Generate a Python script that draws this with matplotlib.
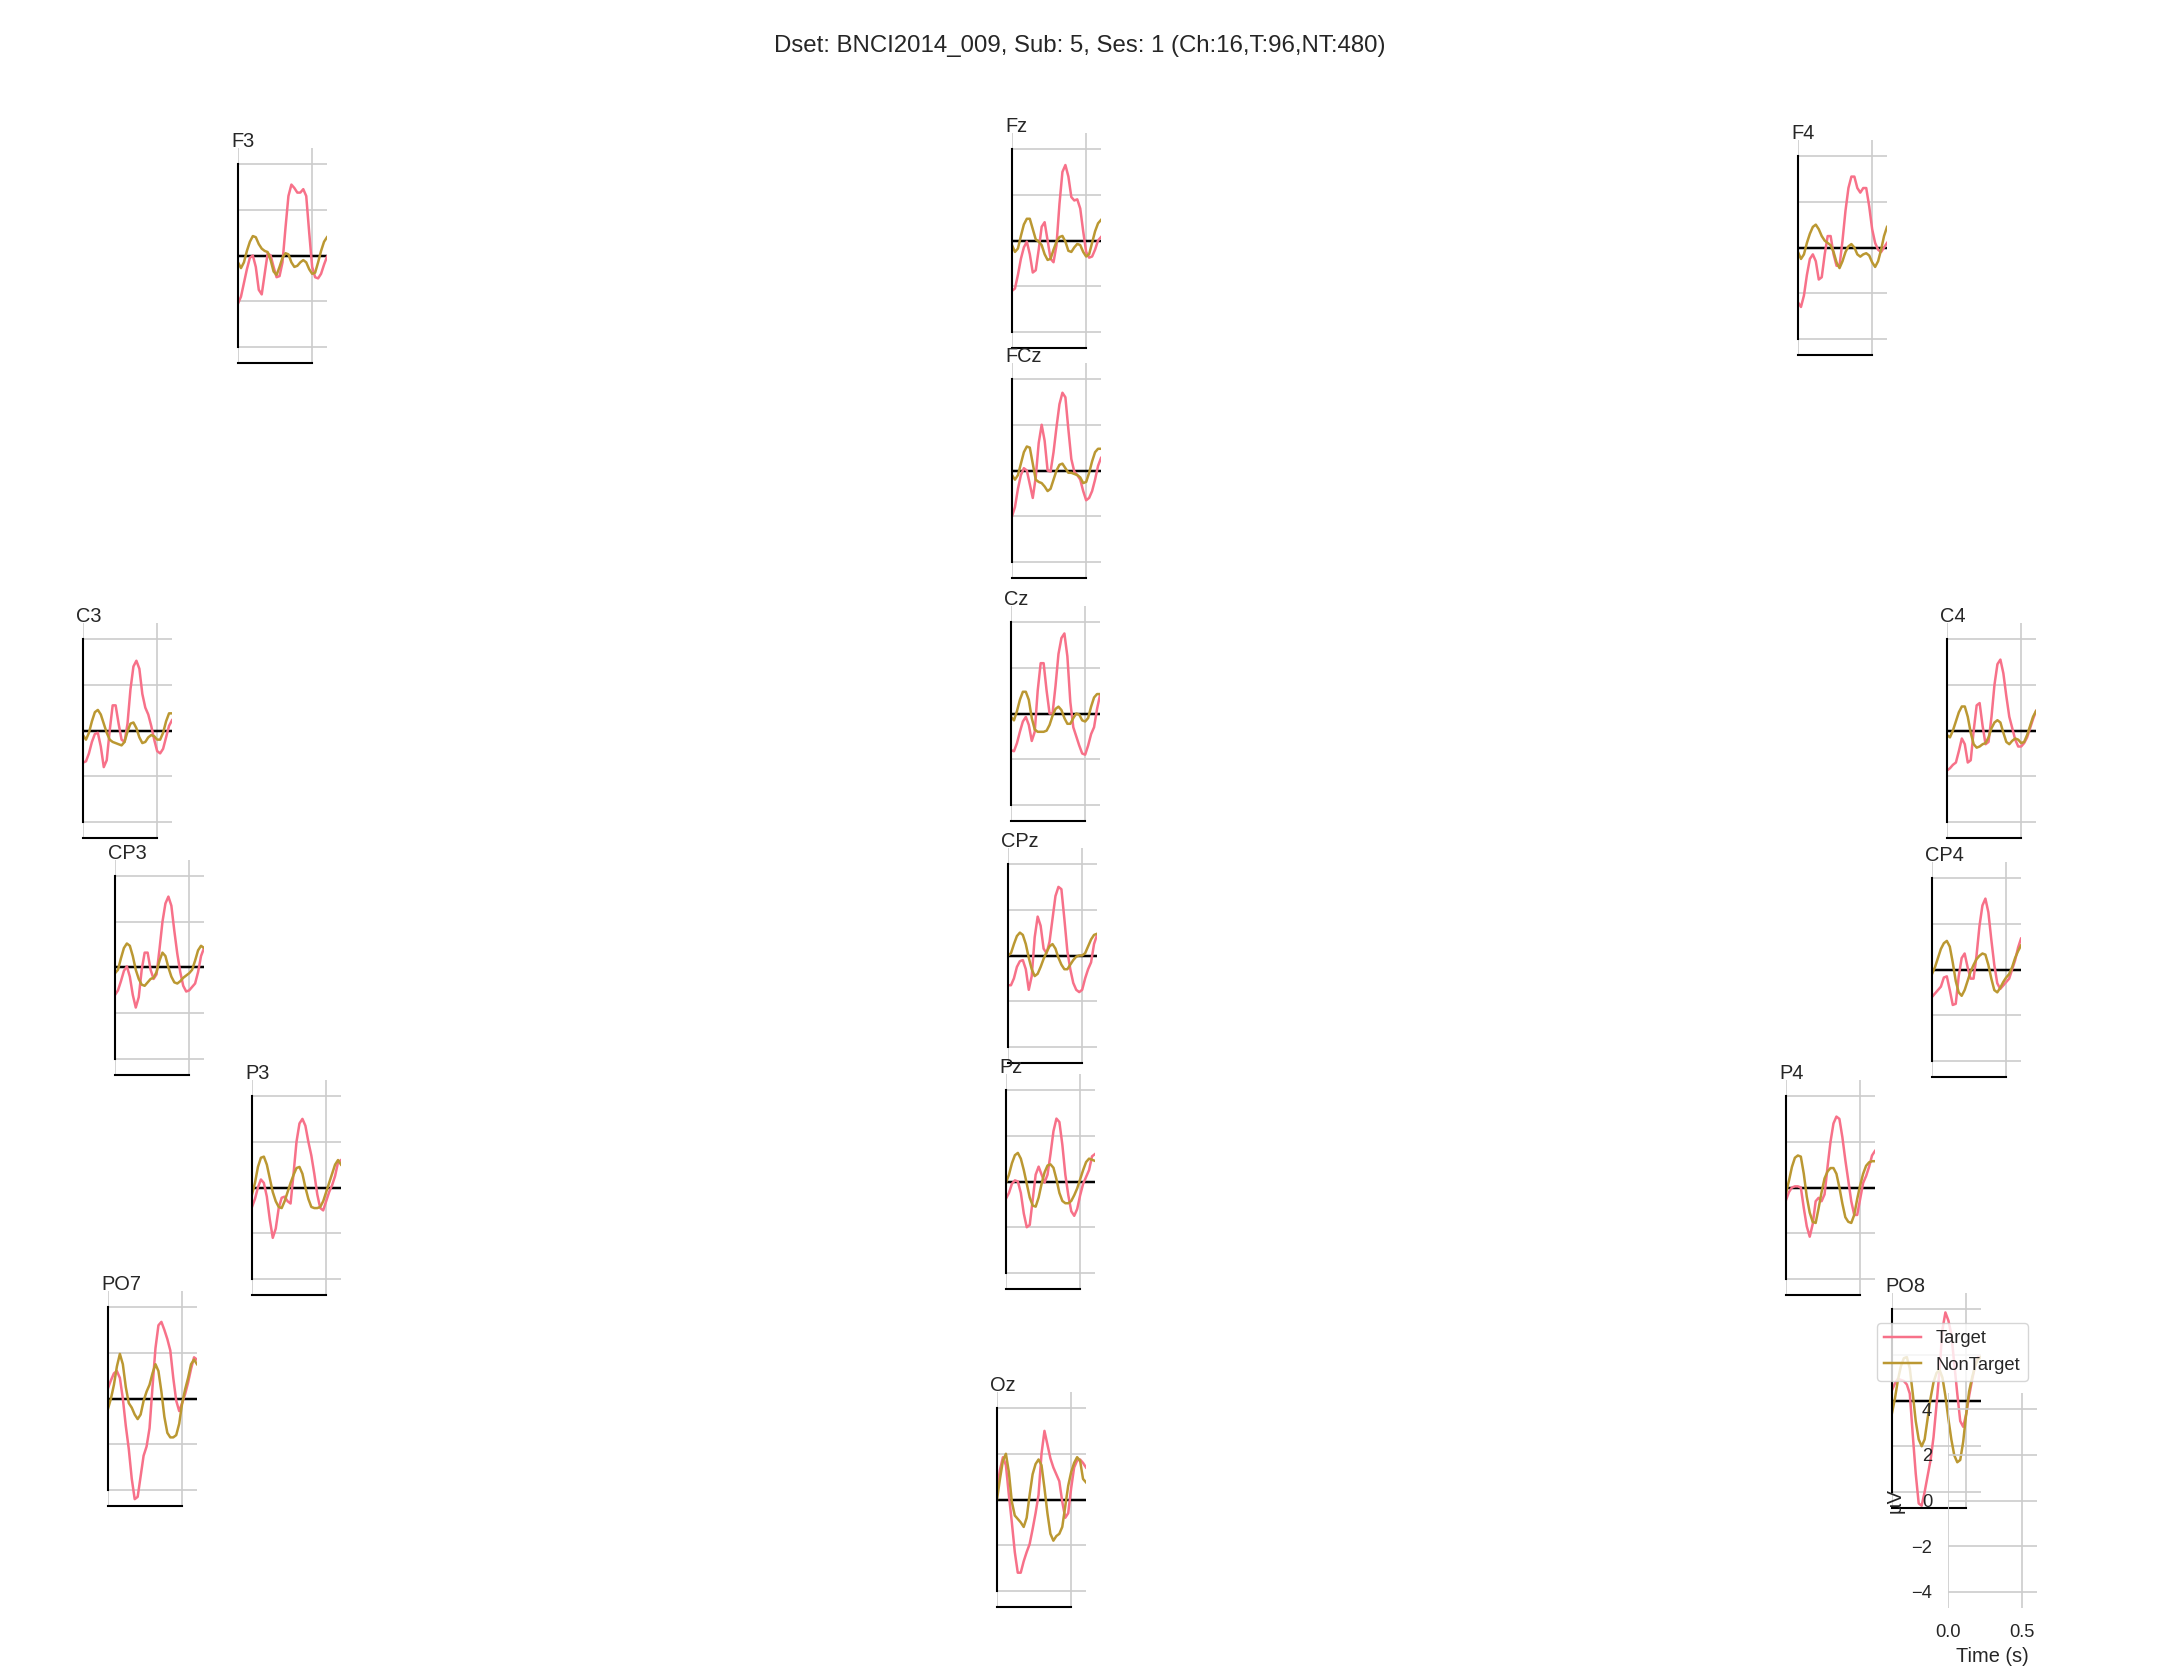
import numpy as np
import matplotlib.pyplot as plt

plt.rcParams['font.family'] = ['Liberation Sans', 'DejaVu Sans']
plt.rcParams['text.color'] = '#262626'
plt.rcParams['axes.labelcolor'] = '#262626'
plt.rcParams['xtick.color'] = '#262626'
plt.rcParams['ytick.color'] = '#262626'

title = "Dset: BNCI2014_009, Sub: 5, Ses: 1 (Ch:16,T:96,NT:480)"
conditions = ['Target', 'NonTarget']
times = np.round(np.arange(31) * 0.02, 2)  # s

f3_target = [-2.1, -1.8, -1.2, -0.6, -0.1, 0.0, -0.5, -1.5, -1.7, -0.8, 0.1, 0.0, -0.5, -0.95, -0.9, -0.3,
             1.2, 2.6, 3.1, 2.95, 2.75, 2.75, 2.9, 2.6, 1.0, -0.5, -0.95, -1.0, -0.8, -0.4, -0.05]
f3_nontarget = [-0.3, -0.55, -0.3, 0.2, 0.6, 0.85, 0.8, 0.5, 0.3, 0.2, 0.15, -0.2, -0.7, -0.85, -0.5, -0.1,
                0.1, 0.05, -0.3, -0.5, -0.45, -0.3, -0.2, -0.3, -0.6, -0.8, -0.75, -0.3, 0.2, 0.6, 0.8]
fz_target = [-2.2, -2.1, -1.5, -0.8, -0.3, -0.05, -0.6, -1.4, -1.3, -0.4, 0.6, 0.8, 0.0, -0.8, -0.95, -0.2,
             1.6, 3.0, 3.3, 2.8, 1.9, 1.75, 1.8, 1.4, 0.4, -0.5, -0.75, -0.7, -0.4, 0.0, 0.15]
fz_nontarget = [-0.2, -0.5, -0.35, 0.2, 0.7, 0.95, 0.95, 0.5, 0.05, -0.05, -0.2, -0.6, -0.85, -0.8, -0.4, -0.05,
                0.15, 0.2, -0.05, -0.45, -0.5, -0.3, -0.15, -0.2, -0.5, -0.7, -0.6, -0.1, 0.4, 0.75, 0.9]
f4_target = [-2.4, -2.6, -2.1, -1.2, -0.5, -0.3, -0.6, -1.4, -1.3, -0.3, 0.5, 0.5, -0.3, -0.8, -0.8, 0.3,
             1.6, 2.6, 3.1, 3.1, 2.6, 2.4, 2.6, 2.6, 1.8, 0.8, 0.2, -0.1, -0.2, 0.0, 0.2]
f4_nontarget = [-0.2, -0.5, -0.3, 0.2, 0.6, 0.9, 1.0, 0.8, 0.5, 0.3, 0.2, 0.1, -0.2, -0.65, -0.9, -0.6,
                -0.2, 0.05, 0.15, 0.0, -0.3, -0.4, -0.3, -0.25, -0.35, -0.65, -0.85, -0.6, -0.1, 0.5, 0.9]
fcz_target = [-2.0, -1.6, -0.8, -0.2, 0.1, 0.0, -0.6, -1.2, -0.3, 1.2, 2.0, 1.3, 0.0, -0.05, 0.8, 1.9,
              2.9, 3.4, 3.2, 1.8, 0.5, -0.05, -0.2, -0.4, -0.9, -1.3, -1.2, -0.9, -0.4, 0.2, 0.55]
fcz_nontarget = [-0.2, -0.4, -0.2, 0.3, 0.8, 1.05, 1.0, 0.3, -0.4, -0.5, -0.55, -0.7, -0.9, -0.8, -0.4, 0.0,
                 0.25, 0.3, 0.1, -0.1, -0.1, -0.15, -0.2, -0.3, -0.55, -0.5, -0.1, 0.4, 0.8, 0.95, 0.95]
c3_target = [-1.4, -1.35, -1.0, -0.5, -0.15, -0.1, -0.7, -1.6, -1.3, 0.0, 1.1, 1.1, 0.3, -0.4, -0.5, 0.3,
             1.8, 2.8, 3.05, 2.7, 1.6, 1.0, 0.7, 0.2, -0.4, -0.9, -1.0, -0.8, -0.3, 0.2, 0.45]
c3_nontarget = [-0.2, -0.4, -0.1, 0.4, 0.8, 0.9, 0.7, 0.3, -0.1, -0.4, -0.5, -0.55, -0.6, -0.65, -0.5, -0.05,
                0.3, 0.35, 0.1, -0.3, -0.55, -0.5, -0.3, -0.2, -0.25, -0.4, -0.4, -0.1, 0.4, 0.75, 0.75]
cz_target = [-1.6, -1.65, -1.3, -0.8, -0.35, -0.15, -0.5, -1.2, -0.8, 1.0, 2.2, 2.2, 1.0, 0.0, 0.0, 1.2,
             2.6, 3.3, 3.5, 2.5, 0.5, -0.6, -1.0, -1.4, -1.75, -1.8, -1.4, -0.9, -0.6, 0.2, 0.8]
cz_nontarget = [-0.15, -0.3, 0.1, 0.6, 0.95, 0.95, 0.6, -0.2, -0.7, -0.8, -0.8, -0.8, -0.75, -0.5, -0.1, 0.2,
                0.3, 0.15, -0.2, -0.45, -0.45, -0.2, 0.0, -0.05, -0.3, -0.35, -0.2, 0.3, 0.7, 0.85, 0.85]
c4_target = [-1.75, -1.65, -1.5, -1.4, -0.9, -0.35, -0.6, -1.4, -1.3, 0.0, 1.1, 1.2, 0.2, -0.6, -0.5, 0.6,
             2.0, 2.9, 3.1, 2.5, 1.5, 0.6, 0.1, -0.4, -0.7, -0.7, -0.55, -0.3, 0.1, 0.5, 0.85]
c4_nontarget = [-0.2, -0.3, 0.0, 0.4, 0.8, 1.05, 1.05, 0.6, -0.1, -0.6, -0.75, -0.7, -0.6, -0.55, -0.3, 0.1,
                0.35, 0.45, 0.35, -0.1, -0.5, -0.6, -0.45, -0.35, -0.4, -0.55, -0.5, -0.2, 0.2, 0.6, 0.85]
cp3_target = [-1.2, -1.0, -0.6, -0.15, 0.05, -0.4, -1.2, -1.75, -1.3, -0.1, 0.65, 0.65, -0.1, -0.5, -0.3, 0.8,
              2.0, 2.8, 3.1, 2.7, 1.6, 0.6, -0.2, -0.8, -1.05, -1.0, -0.85, -0.7, -0.2, 0.5, 0.85]
cp3_nontarget = [-0.25, -0.1, 0.4, 0.85, 1.05, 0.95, 0.5, -0.1, -0.5, -0.75, -0.8, -0.65, -0.5, -0.45, -0.2, 0.3,
                 0.65, 0.5, 0.0, -0.4, -0.65, -0.7, -0.6, -0.45, -0.35, -0.25, -0.1, 0.3, 0.75, 0.95, 0.85]
cpz_target = [-1.3, -1.3, -1.0, -0.5, -0.25, -0.2, -0.6, -1.5, -0.9, 0.8, 1.7, 1.3, 0.3, 0.1, 0.6, 1.6,
              2.6, 3.0, 2.9, 1.6, 0.2, -0.6, -1.2, -1.5, -1.6, -1.5, -1.0, -0.6, -0.3, 0.5, 0.9]
cpz_nontarget = [0.0, 0.1, 0.5, 0.85, 1.0, 0.9, 0.5, -0.1, -0.6, -0.9, -0.8, -0.5, -0.15, 0.15, 0.4, 0.5,
                 0.3, -0.1, -0.4, -0.6, -0.6, -0.4, -0.2, -0.05, 0.0, 0.0, 0.1, 0.4, 0.7, 0.9, 0.95]
cp4_target = [-1.2, -1.05, -0.9, -0.75, -0.35, -0.3, -0.9, -1.55, -1.5, -0.3, 0.5, 0.7, 0.1, -0.4, -0.4, 0.6,
              1.9, 2.8, 3.1, 2.5, 1.3, 0.2, -0.6, -0.85, -0.7, -0.55, -0.4, 0.0, 0.4, 0.95, 1.35]
cp4_nontarget = [-0.2, 0.1, 0.5, 0.9, 1.15, 1.25, 1.0, 0.3, -0.5, -1.0, -1.15, -0.9, -0.5, -0.1, 0.2, 0.45,
                 0.6, 0.7, 0.65, 0.2, -0.4, -0.9, -1.0, -0.8, -0.55, -0.35, -0.2, 0.1, 0.5, 0.8, 1.05]
p3_target = [-0.85, -0.5, 0.0, 0.35, 0.2, -0.4, -1.4, -2.2, -1.8, -0.9, -0.45, -0.4, -0.6, -0.7, 0.6, 2.0,
             2.8, 3.0, 2.7, 2.0, 1.4, 0.6, -0.3, -0.9, -1.0, -0.6, -0.2, 0.1, 0.5, 1.1, 1.2]
p3_nontarget = [-0.3, 0.2, 0.9, 1.3, 1.35, 1.0, 0.4, -0.2, -0.6, -0.85, -0.9, -0.6, -0.2, 0.2, 0.55, 0.85,
                0.9, 0.6, 0.0, -0.5, -0.85, -0.9, -0.9, -0.85, -0.6, -0.2, 0.2, 0.6, 1.0, 1.2, 1.0]
pz_target = [-0.75, -0.5, -0.1, 0.05, 0.0, -0.5, -1.4, -2.0, -1.9, -0.8, 0.3, 0.65, 0.3, -0.05, 0.3, 1.2,
             2.2, 2.75, 2.6, 1.6, 0.3, -0.6, -1.3, -1.5, -1.2, -0.6, -0.1, 0.2, 0.5, 1.1, 1.2]
pz_nontarget = [-0.05, 0.3, 0.8, 1.15, 1.25, 1.0, 0.5, -0.1, -0.7, -1.05, -1.1, -0.7, -0.1, 0.4, 0.7, 0.75,
                0.6, 0.1, -0.5, -0.85, -0.95, -0.95, -0.85, -0.6, -0.3, 0.1, 0.5, 0.85, 1.0, 0.95, 0.9]
p4_target = [-0.55, -0.2, 0.0, 0.05, 0.05, 0.0, -0.9, -1.7, -2.15, -1.6, -0.6, -0.45, -0.6, -0.3, 0.9, 2.0,
             2.8, 3.1, 3.0, 2.2, 1.2, 0.3, -0.6, -1.2, -1.2, -0.5, 0.2, 0.5, 0.9, 1.4, 1.6]
p4_nontarget = [-0.25, 0.3, 0.9, 1.3, 1.4, 1.35, 0.6, -0.4, -1.1, -1.5, -1.55, -0.9, -0.2, 0.4, 0.7, 0.85,
                0.85, 0.6, 0.0, -0.7, -1.3, -1.5, -1.55, -1.2, -0.5, 0.1, 0.6, 0.95, 1.1, 1.15, 1.15]
po7_target = [0.45, 0.8, 1.1, 1.2, 0.9, 0.0, -1.2, -2.2, -3.5, -4.4, -4.3, -3.4, -2.5, -2.1, -1.3, 0.5,
              2.2, 3.2, 3.35, 3.0, 2.6, 2.1, 0.9, -0.1, -0.55, -0.2, 0.2, 0.7, 1.3, 1.8, 1.7]
po7_nontarget = [-0.45, 0.0, 0.6, 1.4, 1.95, 1.5, 0.5, -0.2, -0.4, -0.7, -0.9, -0.7, -0.1, 0.3, 0.6, 1.1,
                 1.5, 1.2, 0.3, -0.8, -1.5, -1.7, -1.7, -1.6, -1.1, -0.2, 0.4, 0.9, 1.5, 1.7, 1.5]
oz_target = [0.45, 1.3, 1.85, 1.5, 0.2, -1.0, -2.3, -3.2, -3.2, -2.7, -2.3, -1.95, -1.3, -0.6, 0.2, 2.0,
             3.0, 2.4, 1.8, 1.4, 1.1, 0.8, -0.1, -0.8, -0.6, 0.5, 1.4, 1.7, 1.75, 1.6, 1.4]
oz_nontarget = [0.0, 0.9, 1.7, 2.0, 1.2, -0.1, -0.7, -0.85, -1.0, -1.2, -0.8, 0.2, 1.1, 1.55, 1.75, 1.5,
                0.5, -0.6, -1.5, -1.8, -1.6, -1.5, -1.2, -0.3, 0.6, 1.2, 1.6, 1.85, 1.7, 0.9, 0.75]
po8_target = [0.45, 0.75, 0.95, 0.9, 0.85, 0.7, 0.3, -1.5, -3.2, -4.5, -4.6, -4.0, -3.3, -2.6, -1.6, -0.2,
              1.3, 3.1, 3.85, 3.5, 2.9, 1.6, 0.3, -0.9, -1.15, -0.6, 0.2, 0.9, 1.5, 1.9, 1.9]
po8_nontarget = [-0.55, 0.1, 0.9, 1.5, 1.85, 1.9, 1.4, 0.3, -0.9, -1.7, -2.0, -1.7, -0.8, 0.1, 0.8, 1.2,
                 1.35, 1.0, 0.2, -0.8, -1.7, -2.4, -2.7, -2.6, -1.8, -0.6, 0.4, 1.0, 1.5, 1.8, 1.9]

erps = {
    'F3': (f3_target, f3_nontarget), 'Fz': (fz_target, fz_nontarget), 'F4': (f4_target, f4_nontarget),
    'FCz': (fcz_target, fcz_nontarget), 'C3': (c3_target, c3_nontarget), 'Cz': (cz_target, cz_nontarget),
    'C4': (c4_target, c4_nontarget), 'CP3': (cp3_target, cp3_nontarget), 'CPz': (cpz_target, cpz_nontarget),
    'CP4': (cp4_target, cp4_nontarget), 'P3': (p3_target, p3_nontarget), 'Pz': (pz_target, pz_nontarget),
    'P4': (p4_target, p4_nontarget), 'PO7': (po7_target, po7_nontarget), 'Oz': (oz_target, oz_nontarget),
    'PO8': (po8_target, po8_nontarget),
}

# sensor box positions on the figure (left, top) in pixels
layout = {
    'F3': (238, 148), 'Fz': (1012, 133), 'F4': (1798, 140), 'FCz': (1012, 363),
    'C3': (83, 623), 'Cz': (1011, 606), 'C4': (1947, 623),
    'CP3': (115, 860), 'CPz': (1008, 848), 'CP4': (1932, 862),
    'P3': (252, 1080), 'Pz': (1006, 1074), 'P4': (1786, 1080),
    'PO7': (108, 1291), 'Oz': (997, 1392), 'PO8': (1892, 1293),
}
legend_box = (1948, 1393)

W, H = 2160, 1680
BW, BH = 89, 215
colors = ['#f77189', '#bb9832']
ylim = (-4.7, 4.7)
k = 1.2  # the original was drawn at 120 dpi

fig = plt.figure(figsize=(W / 100, H / 100), dpi=100)


def add_box(left, top):
    ax = fig.add_axes([left / W, 1 - (top + BH) / H, BW / W, BH / H])
    ax.set_facecolor('none')
    ax.set_xlim(0, 0.6)
    ax.set_ylim(*ylim)
    ax.set_xticks([0, 0.5])
    ax.set_yticks([-4, -2, 0, 2, 4])
    ax.grid(True, color='#cccccc', lw=1 * k)
    ax.set_axisbelow(True)
    ax.tick_params(length=0, pad=9.5 * k)
    return ax


for ch, (tgt, ntg) in erps.items():
    ax = add_box(*layout[ch])
    ax.axhline(0, color='k', lw=1.5 * k, zorder=1.5)
    ax.plot(times, tgt, color=colors[0], lw=1.5 * k)
    ax.plot(times, ntg, color=colors[1], lw=1.5 * k)
    ax.tick_params(labelbottom=False, labelleft=False)
    for s in ['top', 'right']:
        ax.spines[s].set_visible(False)
    ax.spines['left'].set_bounds(-4, 4)
    ax.spines['bottom'].set_bounds(0, 0.5)
    for s in ['left', 'bottom']:
        ax.spines[s].set_color('k')
        ax.spines[s].set_linewidth(1.25 * k)
    ax.text(-0.08, 1.005, ch, transform=ax.transAxes, fontsize=12 * k, ha='left', va='baseline')

# scale box with the tick labels
lax = add_box(*legend_box)
for s in lax.spines.values():
    s.set_visible(False)
lax.tick_params(labelsize=11 * k)
lax.set_xlabel('Time (s)', fontsize=12 * k, labelpad=4 * k)
lax.set_ylabel('µV', fontsize=12 * k, labelpad=4 * k)

handles = [plt.Line2D([], [], color=c, lw=1.5 * k) for c in colors]
fig.legend(handles, conditions, loc='upper left', bbox_to_anchor=(1877 / W, 1 - 1323 / H),
           borderaxespad=0, fontsize=11 * k, frameon=True, framealpha=0.8, edgecolor='#cccccc')

fig.text(0.5, 1 - 46 / H, title, ha='center', va='center', fontsize=14.4 * k)

fig.savefig('out.png', dpi=100)
